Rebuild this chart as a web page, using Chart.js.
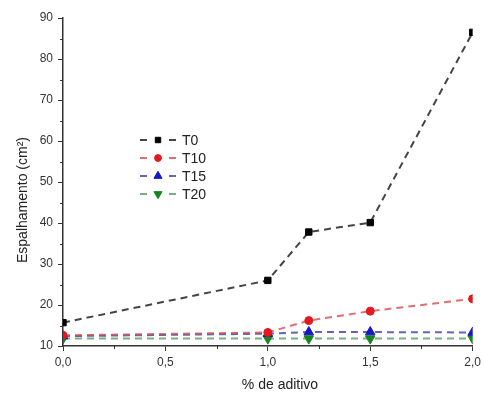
<!DOCTYPE html>
<html>
<head>
<meta charset="utf-8">
<script src="https://cdn.jsdelivr.net/npm/chart.js@4"></script>
<style>
  html, body { margin: 0; padding: 0; background: #fff; }
  #wrap { width: 485px; height: 397px; }
</style>
</head>
<body>
<div id="wrap"><canvas id="chart" width="485" height="397"></canvas></div>
<script>
// Data
const aditivo = [0, 1.0, 1.2, 1.5, 2.0];
const t0 = [15.7, 26, 37.8, 40.1, 86.5];
const t10 = [12.6, 13.3, 16.2, 18.5, 21.5];
const t15 = [12.4, 13.0, 13.4, 13.4, 13.3];
const t20 = [11.8, 11.8, 11.8, 11.8, 11.8];
const seriesNames = ["T0", "T10", "T15", "T20"];

const xTicks = [0, 0.5, 1.0, 1.5, 2.0];
const yTicks = [10, 20, 30, 40, 50, 60, 70, 80, 90];

const FONT = "'Liberation Sans', Arial, sans-serif";

function toPoints(values) {
  return values.map((v, i) => ({ x: aditivo[i], y: v }));
}

function makeDataset(label, values, color, lineColor, pointStyle, radius, rotation) {
  return {
    label: label,
    data: toPoints(values),
    borderColor: lineColor,
    backgroundColor: color,
    pointBackgroundColor: color,
    pointBorderColor: color,
    pointBorderWidth: 1,
    pointStyle: pointStyle,
    pointRadius: radius,
    pointRotation: rotation,
    borderWidth: 2,
    borderDash: [7, 5],
    fill: false,
    tension: 0,
  };
}

const datasets = [
  makeDataset(seriesNames[0], t0, "#000000", "rgba(35,35,35,0.85)", "rect", 4.5, 0),
  makeDataset(seriesNames[1], t10, "#e3191e", "rgba(215,75,80,0.8)", "circle", 4, 0),
  makeDataset(seriesNames[2], t15, "#1616c8", "rgba(55,65,160,0.8)", "triangle", 5.5, 0),
  makeDataset(seriesNames[3], t20, "#15861c", "rgba(85,155,95,0.8)", "triangle", 5.5, 180),
];

// Minor ticks, axis titles and the legend inside the plot area
const extras = {
  id: "extras",
  afterDraw(chart) {
    const ctx = chart.ctx;
    const xs = chart.scales.x;
    const ys = chart.scales.y;
    const area = chart.chartArea;
    ctx.save();
    ctx.strokeStyle = "#333";
    ctx.lineWidth = 1;
    // minor ticks on x
    for (let v = 0.25; v < 2; v += 0.5) {
      const px = Math.round(xs.getPixelForValue(v)) + 0.5;
      ctx.beginPath();
      ctx.moveTo(px, area.bottom);
      ctx.lineTo(px, area.bottom + 3);
      ctx.stroke();
    }
    // minor ticks on y
    for (let v = 15; v < 90; v += 10) {
      const py = Math.round(ys.getPixelForValue(v)) + 0.5;
      ctx.beginPath();
      ctx.moveTo(area.left, py);
      ctx.lineTo(area.left - 3, py);
      ctx.stroke();
    }

    // axis titles
    ctx.fillStyle = "#222";
    ctx.textAlign = "center";
    ctx.textBaseline = "middle";
    ctx.font = "14px " + FONT;
    ctx.fillText("% de aditivo", 280, 385);
    ctx.save();
    ctx.translate(23, 200);
    ctx.rotate(-Math.PI / 2);
    ctx.fillText("Espalhamento (cm²)", 0, 0);
    ctx.restore();

    // legend
    const rowY = [140, 158, 176, 194];
    ctx.font = "14px " + FONT;
    ctx.textAlign = "left";
    chart.data.datasets.forEach((ds, i) => {
      const y = rowY[i];
      ctx.setLineDash([]);
      ctx.strokeStyle = ds.borderColor;
      ctx.lineWidth = 2;
      ctx.beginPath();
      ctx.moveTo(140, y);
      ctx.lineTo(147, y);
      ctx.moveTo(169, y);
      ctx.lineTo(176, y);
      ctx.stroke();
      ctx.fillStyle = ds.pointBackgroundColor;
      ctx.strokeStyle = ds.pointBorderColor;
      ctx.lineWidth = 1;
      Chart.helpers.drawPoint(ctx, {
        pointStyle: ds.pointStyle,
        radius: ds.pointRadius * 0.85,
        rotation: ds.pointRotation,
        borderWidth: 1,
      }, 158, y);
      ctx.fillStyle = "#222";
      ctx.fillText(ds.label, 182, y + 1);
    });
    ctx.restore();
  },
};

const ctx = document.getElementById("chart").getContext("2d");
new Chart(ctx, {
  type: "line",
  data: { datasets: datasets },
  options: {
    responsive: false,
    animation: false,
    layout: { padding: { left: 0, right: 12, top: 18, bottom: 0 } },
    plugins: {
      legend: { display: false },
      tooltip: { enabled: false },
    },
    scales: {
      x: {
        type: "linear",
        min: 0,
        max: 2,
        afterBuildTicks: (scale) => {
          scale.ticks = xTicks.map((v) => ({ value: v }));
        },
        ticks: {
          color: "#333",
          font: { family: FONT, size: 12 },
          padding: 4,
          maxRotation: 0,
          callback: (v) => v.toFixed(1).replace(".", ","),
        },
        grid: {
          display: true,
          drawOnChartArea: false,
          tickLength: 5,
          tickColor: "#333",
          color: "#333",
        },
        border: { color: "#333", width: 1.5 },
        afterFit: (scale) => {
          scale.height = 51;
        },
      },
      y: {
        type: "linear",
        min: 10,
        max: 90,
        afterBuildTicks: (scale) => {
          scale.ticks = yTicks.map((v) => ({ value: v }));
        },
        ticks: {
          color: "#333",
          font: { family: FONT, size: 12 },
          padding: 5,
        },
        grid: {
          display: true,
          drawOnChartArea: false,
          tickLength: 5,
          tickColor: "#333",
          color: "#333",
        },
        border: { color: "#333", width: 1.5 },
        afterFit: (scale) => {
          scale.width = 63;
        },
      },
    },
  },
  plugins: [extras],
});
</script>
</body>
</html>
